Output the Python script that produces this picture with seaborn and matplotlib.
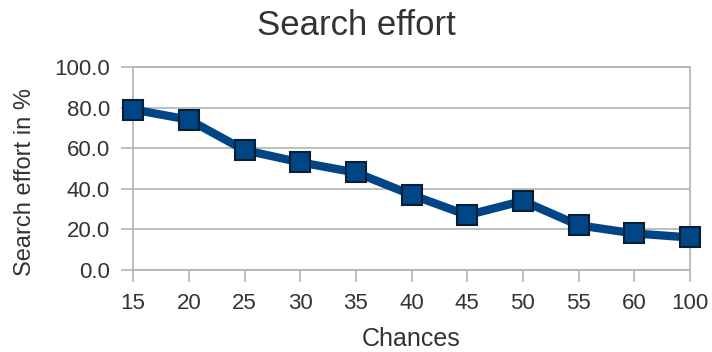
import matplotlib
matplotlib.use("Agg")
import matplotlib.pyplot as plt
import seaborn as sns
import pandas as pd

chances = ["15", "20", "25", "30", "35", "40", "45", "50", "55", "60", "100"]
effort = [79, 74, 59, 53, 48, 37, 27, 34, 22, 18, 16]
y_ticks = [0, 20, 40, 60, 80, 100]

sns.set_theme(style="white")
plt.rcParams["font.family"] = ["Liberation Sans", "DejaVu Sans"]

df = pd.DataFrame({"Chances": chances, "Effort": effort})

fig = plt.figure(figsize=(7.12, 3.52), dpi=100)
ax = fig.add_axes([0.187, 0.233, 0.782, 0.577])

line_color = "#004586"
sns.lineplot(data=df, x="Chances", y="Effort", sort=False, ax=ax,
             color=line_color, linewidth=6, marker="s", markersize=15,
             markerfacecolor=line_color, markeredgecolor="#0b1f33",
             markeredgewidth=1.5, zorder=3)

grid_c = "#b3b3b3"
text_c = "#333333"
ax.set_ylim(0, 100)
ax.set_xlim(0, len(chances) - 1)
ax.set_yticks(y_ticks)
ax.set_yticklabels([f"{v:.1f}" for v in y_ticks])
ax.yaxis.grid(True, color=grid_c, linewidth=1.2)
ax.xaxis.grid(False)
for s in ax.spines.values():
    s.set_color(grid_c)
    s.set_linewidth(1.2)
ax.tick_params(axis="both", which="major", length=8.5, width=1.2, color=grid_c,
               labelsize=16, labelcolor=text_c, direction="out",
               bottom=True, left=True)
ax.tick_params(axis="x", pad=8)
ax.tick_params(axis="y", pad=8)
for ln in ax.lines:
    ln.set_clip_on(False)

ax.set_xlabel("Chances", fontsize=18, color=text_c)
ax.set_ylabel("Search effort in %", fontsize=17, color=text_c)
ax.xaxis.set_label_coords(0.5, -0.28)
ax.yaxis.set_label_coords(-0.175, 0.433)
fig.suptitle("Search effort", fontsize=25, color=text_c, y=0.975)

fig.savefig("out.png", dpi=100, facecolor="white")
